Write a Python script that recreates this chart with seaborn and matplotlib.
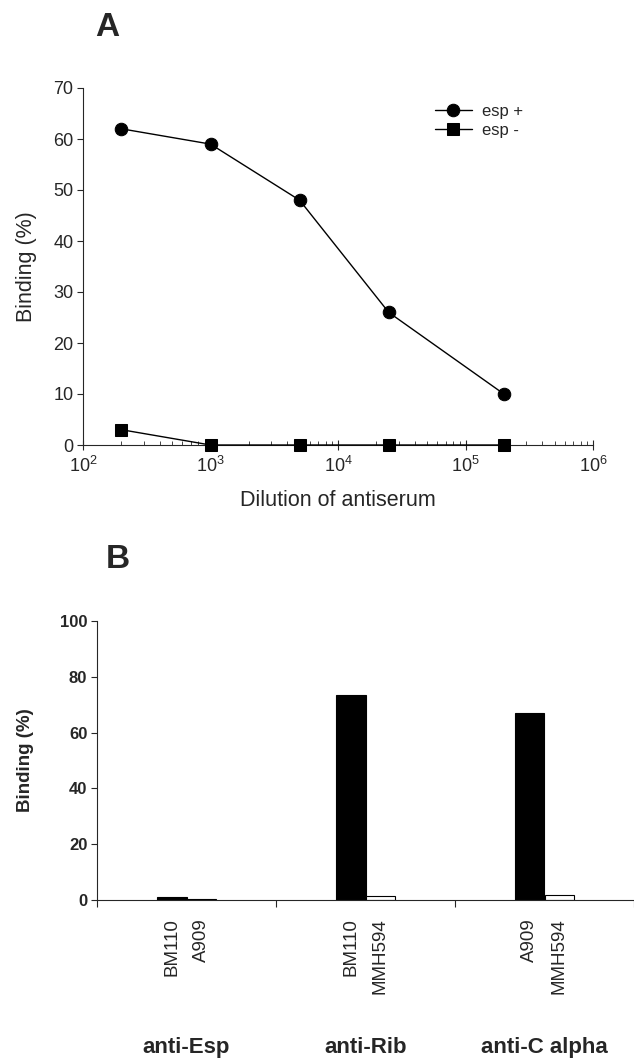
import pandas as pd
import seaborn as sns
import matplotlib.pyplot as plt
from matplotlib.ticker import LogLocator, NullFormatter, FixedLocator
import matplotlib.transforms as mtransforms

# Panel A data: binding vs dilution of antiserum
dilution = [200, 1000, 5000, 25000, 200000]
esp_pos = [62, 59, 48, 26, 10]
esp_neg = [3, 0, 0, 0, 0]

# Panel B data: binding per antiserum, antigen positive (black) / negative (white) strain
antisera = ['anti-Esp', 'anti-Rib', 'anti-C alpha']
strain_pos = ['BM110', 'BM110', 'A909']
strain_neg = ['A909', 'MMH594', 'MMH594']
binding_pos = [1.0, 73.5, 67.0]
binding_neg = [0.5, 1.3, 1.7]

sns.set_style('ticks')
plt.rcParams['font.family'] = ['Liberation Sans', 'DejaVu Sans']
plt.rcParams['mathtext.default'] = 'regular'

W, H = 634, 1060
fig = plt.figure(figsize=(W / 100, H / 100), dpi=100)

# ---------- Panel A ----------
ax1 = fig.add_axes([83 / W, 1 - 445 / H, 510 / W, 357 / H])
df_a = pd.DataFrame({
    'dilution': dilution * 2,
    'binding': esp_pos + esp_neg,
    'series': ['esp +'] * len(dilution) + ['esp -'] * len(dilution),
})
sns.lineplot(
    data=df_a, x='dilution', y='binding', hue='series', style='series',
    palette={'esp +': 'black', 'esp -': 'black'},
    markers={'esp +': 'o', 'esp -': 's'}, dashes=False,
    linewidth=1, markersize=9, markeredgecolor='black', clip_on=False,
    zorder=3, ax=ax1,
)
ax1.set_xscale('log')
ax1.set_xlim(1e2, 1e6)
ax1.set_ylim(0, 70)
ax1.set_yticks(range(0, 71, 10))
ax1.xaxis.set_minor_locator(LogLocator(base=10, subs=range(2, 10)))
ax1.xaxis.set_minor_formatter(NullFormatter())
ax1.tick_params(axis='x', which='major', direction='inout', length=7, width=0.8, labelsize=13, pad=4)
ax1.tick_params(axis='x', which='minor', direction='in', length=3, width=0.6)
ax1.tick_params(axis='y', direction='out', length=4, width=0.8, labelsize=13, pad=3)
for s in ['top', 'right']:
    ax1.spines[s].set_visible(False)
for s in ['left', 'bottom']:
    ax1.spines[s].set_linewidth(0.8)
ax1.set_xlabel('Dilution of antiserum', fontsize=15.5)
ax1.set_ylabel('Binding (%)', fontsize=15.5)
ax1.xaxis.set_label_coords(0.5, -0.125)
ax1.yaxis.set_label_coords(-0.09, 0.5)
handles, labels = ax1.get_legend_handles_labels()
ax1.legend(handles, labels, loc='upper left', bbox_to_anchor=(0.69, 0.955),
           frameon=False, fontsize=12, handlelength=2.2, handletextpad=0.6,
           labelspacing=0.25, borderpad=0, borderaxespad=0)

fig.text(95 / W, 1 - 27.5 / H, 'A', fontsize=24, fontweight='bold', va='center', ha='left')

# ---------- Panel B ----------
ax2 = fig.add_axes([97 / W, 1 - 900 / H, 537 / W, 279 / H])
df_b = pd.DataFrame({
    'antiserum': antisera * 2,
    'binding': binding_pos + binding_neg,
    'strain': strain_pos + strain_neg,
    'antigen': ['pos'] * len(antisera) + ['neg'] * len(antisera),
})
sns.barplot(
    data=df_b, x='antiserum', y='binding', hue='antigen', hue_order=['pos', 'neg'],
    palette={'pos': 'black', 'neg': 'white'}, edgecolor='black', linewidth=0.8,
    width=0.33, gap=0, legend=False, ax=ax2,
)
ax2.set_xlim(-0.5, 2.5)
ax2.set_ylim(0, 100)
ax2.set_yticks(range(0, 101, 20))
for lbl in ax2.get_yticklabels():
    lbl.set_fontweight('bold')
ax2.tick_params(axis='y', direction='out', length=4, width=0.8, labelsize=12, pad=3)

# major ticks between groups, strain names under each bar as minor ticks
ax2.xaxis.set_major_locator(FixedLocator([-0.5, 0.5, 1.5, 2.5]))
ax2.xaxis.set_major_formatter(NullFormatter())
ax2.tick_params(axis='x', which='major', direction='out', length=5, width=0.8)
centers, names = [], []
for cont, strains in zip(ax2.containers, [strain_pos, strain_neg]):
    for bar, name in zip(cont, strains):
        centers.append(bar.get_x() + bar.get_width() / 2)
        names.append(name)
order = sorted(range(len(centers)), key=lambda i: centers[i])
ax2.set_xticks([centers[i] for i in order], minor=True)
ax2.set_xticklabels([names[i] for i in order], minor=True, rotation=90, fontsize=13.5)
ax2.tick_params(axis='x', which='minor', length=0, pad=13)

trans = mtransforms.blended_transform_factory(ax2.transData, ax2.transAxes)
for i, name in enumerate(antisera):
    ax2.text(i, -0.53, name, transform=trans, ha='center', va='center',
             fontsize=16, fontweight='bold')

for s in ['top', 'right']:
    ax2.spines[s].set_visible(False)
for s in ['left', 'bottom']:
    ax2.spines[s].set_linewidth(0.8)
ax2.set_xlabel('')
ax2.set_ylabel('Binding (%)', fontsize=13.5, fontweight='bold')
ax2.yaxis.set_label_coords(-0.117, 0.5)

fig.text(106 / W, 1 - 560 / H, 'B', fontsize=24, fontweight='bold', va='center', ha='left')

fig.savefig('out.png', dpi=100, facecolor='white')
